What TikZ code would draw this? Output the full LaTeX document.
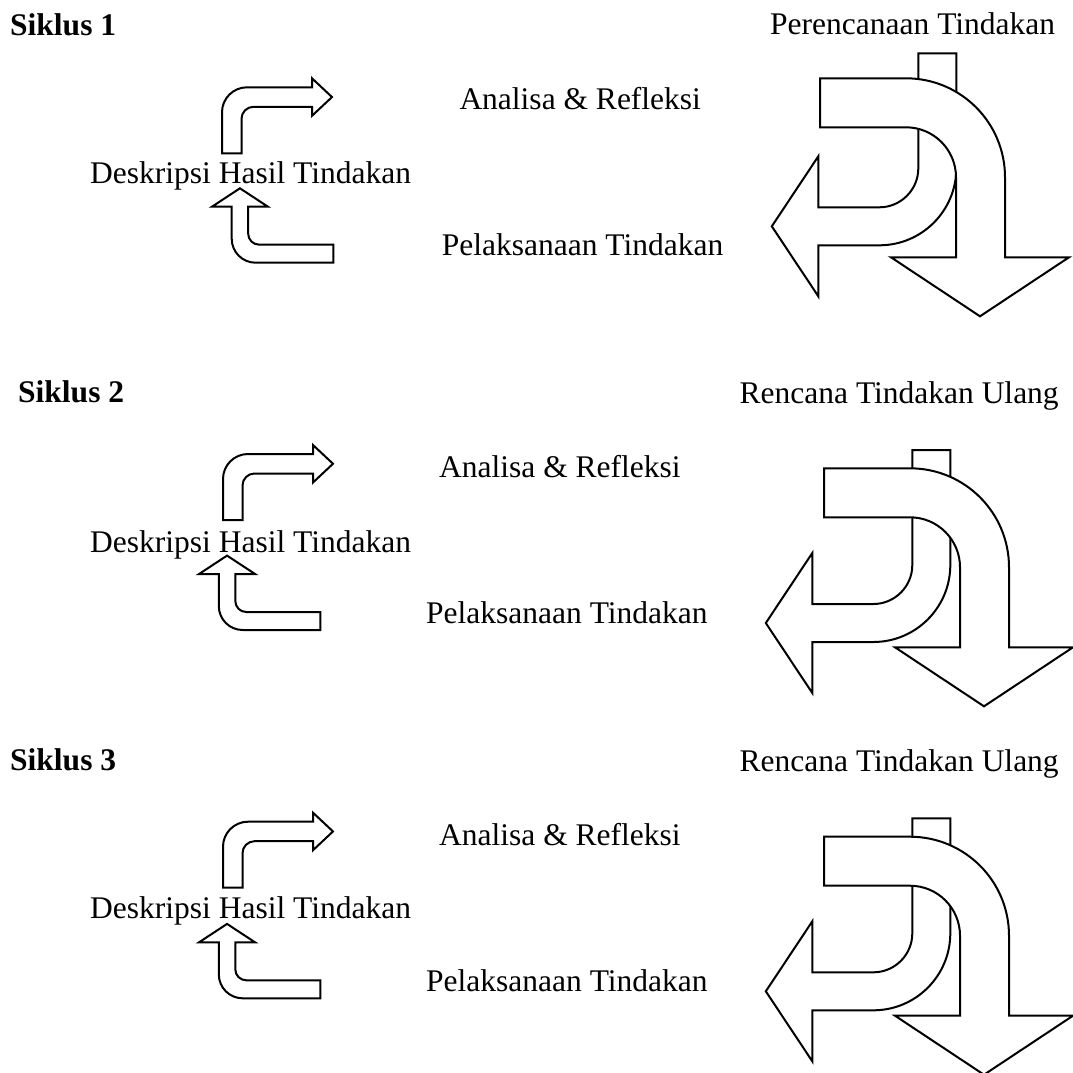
\documentclass[tikz,border=0pt]{standalone}
\usepackage{fontspec}
\setmainfont{Liberation Serif}
\usepackage{tikz}
\tikzstyle{caption} = [inner sep=0pt, anchor=base west, text=black, font=\fontsize{31.5}{38}\selectfont]
\tikzstyle{title}   = [caption, font=\fontsize{31.5}{38}\selectfont\bfseries]
\tikzstyle{block}   = [draw=black, line width=2pt, fill=white, line join=miter]
% big arrows: turn left (back) and turn down (front)
\newcommand{\cycleft}[2]{\draw[block, shift={(#1,#2)}] (0,0) -- (38,0) -- (38,115) .. controls (38,157.5) and (3.5,192) .. (-39,192) -- (-100,192) -- (-100,243) -- (-146.5,173) -- (-100,103) -- (-100,154) -- (-39,154) .. controls (-17.5,154) and (0,136.5) .. (0,115) -- cycle;}
\newcommand{\cycdown}[2]{\draw[block, shift={(#1,#2)}] (0,0) -- (86,0) .. controls (140.7,0) and (185,44.3) .. (185,99) -- (185,179) -- (249,179) -- (160,238) -- (71,179) -- (136,179) -- (136,99) .. controls (136,71.4) and (113.6,49) .. (86,49) -- (0,49) -- cycle;}
% small arrows: bend right (top) and bend up (bottom)
\newcommand{\cycright}[2]{\draw[block, shift={(#1,#2)}] (0,0) -- (0,-41) .. controls (0,-54.8) and (11.2,-66) .. (25,-66) -- (90,-66) -- (90,-75) -- (110,-56.25) -- (90,-37.5) -- (90,-46.5) -- (31.5,-46.5) .. controls (24.9,-46.5) and (19.5,-41.1) .. (19.5,-34.5) -- (19.5,0) -- cycle;}
\newcommand{\cycup}[2]{\draw[block, shift={(#1,#2)}] (101.6,0) -- (24,0) .. controls (10.7,0) and (0,-10.7) .. (0,-24) -- (0,-56) -- (-19.75,-56) -- (8.25,-74.4) -- (36.25,-56) -- (16.5,-56) -- (16.5,-29) .. controls (16.5,-22.9) and (21.4,-18) .. (27.5,-18) -- (101.6,-18) -- cycle;}

\begin{document}
\begin{tikzpicture}[x=1pt, y=-1pt]
\useasboundingbox (0,0) rectangle (1073,1072);

% Siklus 1 =============================
\node[title] (siklus1) at (10,35) {Siklus 1};
\node[caption] (plan1) at (770,34) {Perencanaan Tindakan};
\node[caption] (refl1) at (459.3,109.3) {Analisa \& Refleksi};
\node[caption] (desc1) at (90,183) {Deskripsi Hasil Tindakan};
\node[caption] (act1) at (441.7,255) {Pelaksanaan Tindakan};

\cycright{222}{153.3}
\cycup{231.7}{262.7}
\cycleft{918.3}{53.3}
\cycdown{820}{78.3}

% Siklus 2 =============================
\node[title] (siklus2) at (18,402) {Siklus 2};
\node[caption] (plan2) at (739.5,403.4) {Rencana Tindakan Ulang};
\node[caption] (refl2) at (439,477) {Analisa \& Refleksi};
\node[caption] (desc2) at (90,552) {Deskripsi Hasil Tindakan};
\node[caption] (act2) at (426,623) {Pelaksanaan Tindakan};

\cycright{223}{520}
\cycup{218.8}{630}
\cycleft{912.3}{450}
\cycdown{824}{468.3}

% Siklus 3 =============================
\node[title] (siklus3) at (10,770.7) {Siklus 3};
\node[caption] (plan3) at (739.5,771.7) {Rencana Tindakan Ulang};
\node[caption] (refl3) at (439,845.3) {Analisa \& Refleksi};
\node[caption] (desc3) at (90,918.3) {Deskripsi Hasil Tindakan};
\node[caption] (act3) at (426,991.3) {Pelaksanaan Tindakan};

\cycright{223}{887.7}
\cycup{218.8}{998.3}
\cycleft{912.3}{818.3}
\cycdown{824}{836.7}

\end{tikzpicture}
\end{document}
